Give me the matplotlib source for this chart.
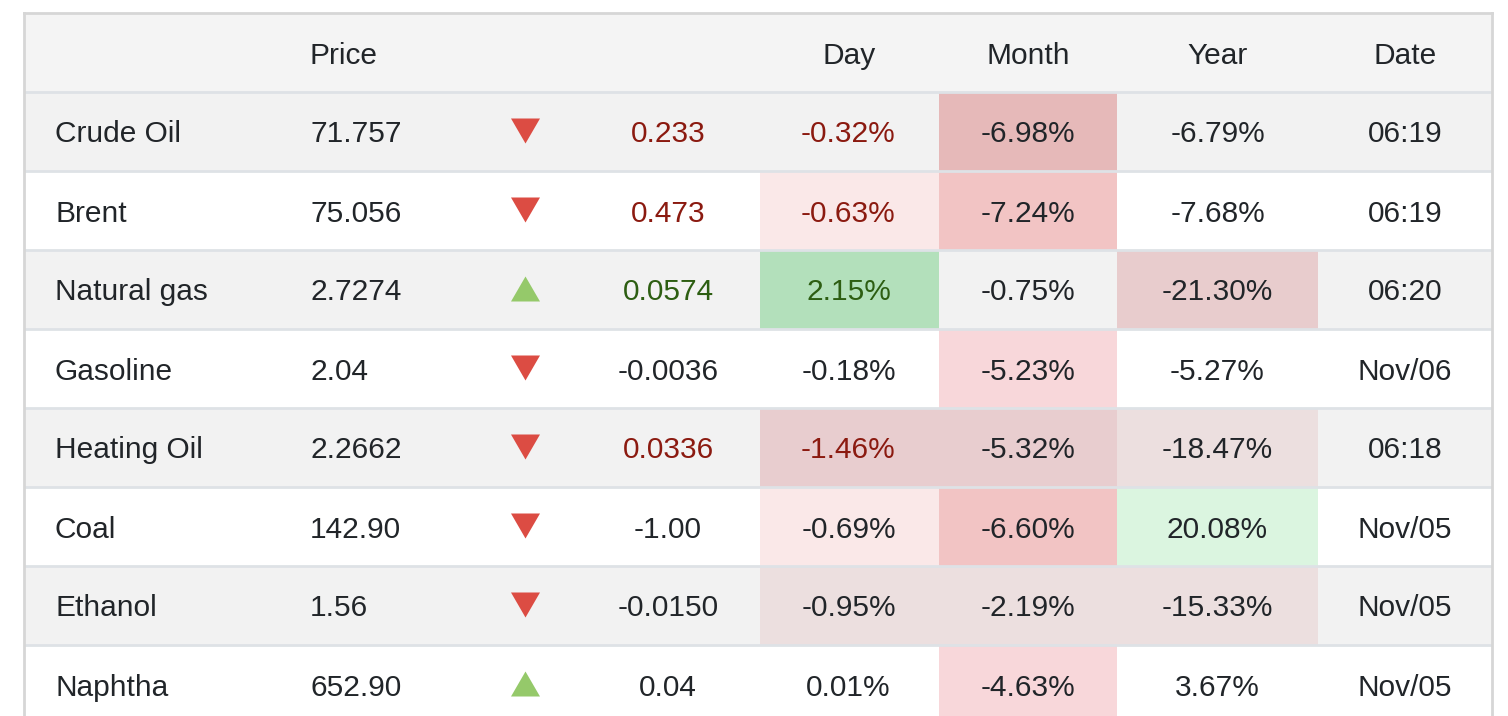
import matplotlib.pyplot as plt
import matplotlib.patches as patches

plt.rcParams['font.family'] = ['Liberation Sans', 'DejaVu Sans']

names = ["Crude Oil", "Brent", "Natural gas", "Gasoline", "Heating Oil", "Coal", "Ethanol", "Naphtha"]
prices = ["71.757", "75.056", "2.7274", "2.04", "2.2662", "142.90", "1.56", "652.90"]
direction = ["down", "down", "up", "down", "down", "down", "down", "up"]
changes = ["0.233", "0.473", "0.0574", "-0.0036", "0.0336", "-1.00", "-0.0150", "0.04"]
day_pct = ["-0.32%", "-0.63%", "2.15%", "-0.18%", "-1.46%", "-0.69%", "-0.95%", "0.01%"]
month_pct = ["-6.98%", "-7.24%", "-0.75%", "-5.23%", "-5.32%", "-6.60%", "-2.19%", "-4.63%"]
year_pct = ["-6.79%", "-7.68%", "-21.30%", "-5.27%", "-18.47%", "20.08%", "-15.33%", "3.67%"]
dates = ["06:19", "06:19", "06:20", "Nov/06", "06:18", "Nov/05", "Nov/05", "Nov/05"]
# text tone of the change and day columns
tone = ["down", "down", "up", None, "down", None, None, None]
headers = ["", "Price", "", "", "Day", "Month", "Year", "Date"]

# heat colours of the day / month / year cells
day_bg = [None, "#fae8e8", "#b3e0bb", None, "#e8cdcf", "#fae8e8", "#ecdfdf", None]
month_bg = ["#e6b9b9", "#f2c4c4", None, "#f8d7da", "#e8cdcf", "#f2c4c4", "#ecdfdf", "#f8d7da"]
year_bg = [None, None, "#e8cccd", None, "#ecdfdf", "#dbf5e0", "#ecdfdf", None]

text_color = "#212529"
tone_color = {"down": "#8b1a10", "up": "#2d5e12", None: text_color}
arrow_color = {"down": "#dc4c43", "up": "#95c96a"}
line_color = "#dee2e6"

W, H = 1508, 716
fig = plt.figure(figsize=(W / 100, H / 100), dpi=100)
ax = fig.add_axes([0, 0, 1, 1])
ax.set_xlim(0, W)
ax.set_ylim(H, 0)
ax.axis('off')

left, right, top = 24, 1492, 13
head_h, row_h = 79, 79
# column edges for the heat cells and text anchors
day_x, month_x, year_x, date_x = (760, 939), (939, 1117), (1117, 1318), (1318, 1492)
fs = 21.5
base = 11  # baseline offset below the row centre

# header
ax.add_patch(patches.Rectangle((left, top), right - left, head_h, color="#f4f4f4", lw=0))
hy = top + head_h / 2 + base
ax.text(310, hy, headers[1], fontsize=fs, color=text_color, va='baseline', ha='left')
for lbl, (x0, x1) in zip(headers[4:], [day_x, month_x, year_x, date_x]):
    ax.text((x0 + x1) / 2, hy, lbl, fontsize=fs, color=text_color, va='baseline', ha='center')

for i, name in enumerate(names):
    y0 = top + head_h + i * row_h
    yc = y0 + row_h / 2
    yb = yc + base
    bg = "#f2f2f2" if i % 2 == 0 else "white"
    ax.add_patch(patches.Rectangle((left, y0), right - left, row_h, color=bg, lw=0))
    for cols, (x0, x1) in [(day_bg, day_x), (month_bg, month_x), (year_bg, year_x)]:
        if cols[i]:
            ax.add_patch(patches.Rectangle((x0, y0), x1 - x0, row_h, color=cols[i], lw=0))
    ax.plot([left, right], [y0, y0], color=line_color, lw=2, solid_capstyle='butt')

    ax.text(55, yb, name, fontsize=fs, color=text_color, va='baseline', ha='left')
    ax.text(310, yb, prices[i], fontsize=fs, color=text_color, va='baseline', ha='left')
    if direction[i] == "down":
        tri = [(511, yc - 13), (540, yc - 13), (525.5, yc + 12)]
    else:
        tri = [(511, yc + 12), (540, yc + 12), (525.5, yc - 13)]
    ax.add_patch(patches.Polygon(tri, closed=True, color=arrow_color[direction[i]], lw=0))
    ax.text(668, yb, changes[i], fontsize=fs, color=tone_color[tone[i]], va='baseline', ha='center')
    ax.text(sum(day_x) / 2 - 1, yb, day_pct[i], fontsize=fs, color=tone_color[tone[i]], va='baseline', ha='center')
    ax.text(sum(month_x) / 2, yb, month_pct[i], fontsize=fs, color=text_color, va='baseline', ha='center')
    ax.text(sum(year_x) / 2, yb, year_pct[i], fontsize=fs, color=text_color, va='baseline', ha='center')
    ax.text(sum(date_x) / 2, yb, dates[i], fontsize=fs, color=text_color, va='baseline', ha='center')

# outer border
ax.plot([left, left], [top, H], color="#d6d6d6", lw=2)
ax.plot([right, right], [top, H], color="#d6d6d6", lw=2)
ax.plot([left, right], [top, top], color="#d6d6d6", lw=2)

fig.savefig("out.png", dpi=100)
